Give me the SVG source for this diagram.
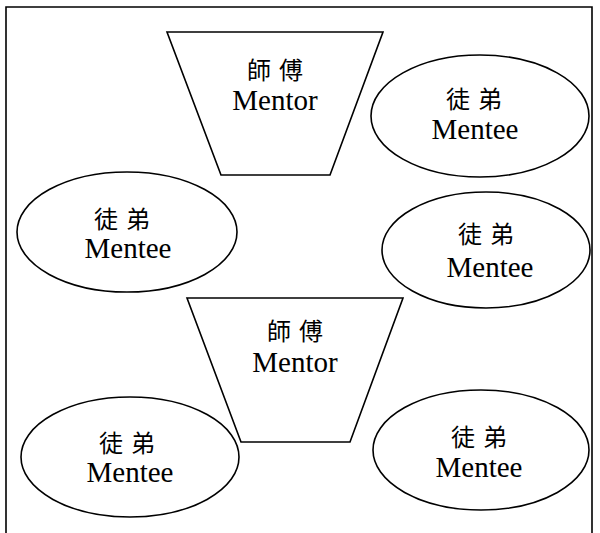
<svg xmlns="http://www.w3.org/2000/svg" width="600" height="533" viewBox="0 0 600 533">
  <style>
    .shape { fill: #ffffff; stroke: #000000; stroke-width: 1.6; }
    .frame { fill: none; stroke: #000000; stroke-width: 1.6; }
    .zh { font-family: "Noto Sans CJK TC", "Noto Sans CJK SC", sans-serif; font-size: 24px; letter-spacing: 8px; text-anchor: middle; fill: #000; }
    .en { font-family: "Liberation Serif", "Times New Roman", serif; font-size: 29px; text-anchor: middle; fill: #000; }
  </style>

  <!-- outer frame, open at the bottom -->
  <path class="frame" d="M6,540 V7 H592 V540"/>

  <g id="connectors"></g>

  <!-- upper mentor -->
  <g id="mentor-top">
    <polygon class="shape" points="167,32 383,32 330,175 221,175"/>
    <text class="zh" x="279" y="79">師傅</text>
    <text class="en" x="275" y="110">Mentor</text>
  </g>

  <g id="mentee-top-right">
    <ellipse class="shape" cx="480" cy="116" rx="109" ry="61"/>
    <text class="zh" x="478" y="108">徒弟</text>
    <text class="en" x="475" y="139">Mentee</text>
  </g>

  <g id="mentee-mid-left">
    <ellipse class="shape" cx="127" cy="232" rx="110" ry="60"/>
    <text class="zh" x="126" y="228">徒弟</text>
    <text class="en" x="128" y="258">Mentee</text>
  </g>

  <g id="mentee-mid-right">
    <ellipse class="shape" cx="486" cy="250" rx="104" ry="58"/>
    <text class="zh" x="490" y="243">徒弟</text>
    <text class="en" x="490" y="277">Mentee</text>
  </g>

  <!-- lower mentor -->
  <g id="mentor-bottom">
    <polygon class="shape" points="187,298 403,298 350,442 241,442"/>
    <text class="zh" x="299" y="340">師傅</text>
    <text class="en" x="295" y="372">Mentor</text>
  </g>

  <g id="mentee-bottom-left">
    <ellipse class="shape" cx="130" cy="457" rx="109" ry="60"/>
    <text class="zh" x="131" y="452">徒弟</text>
    <text class="en" x="130" y="482">Mentee</text>
  </g>

  <g id="mentee-bottom-right">
    <ellipse class="shape" cx="481" cy="450" rx="108" ry="60"/>
    <text class="zh" x="483" y="446">徒弟</text>
    <text class="en" x="479" y="477">Mentee</text>
  </g>
</svg>
